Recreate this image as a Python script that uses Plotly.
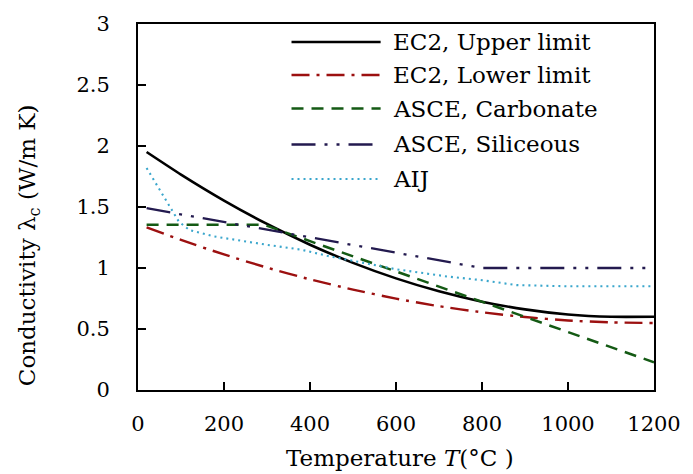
import plotly.graph_objects as go

# ---- data ----
T_ec2 = [20, 100, 200, 300, 400, 500, 600, 700, 800, 900, 1000, 1100, 1200]
ec2_upper = [1.951, 1.766, 1.553, 1.361, 1.191, 1.042, 0.915, 0.809, 0.724, 0.661, 0.619, 0.600, 0.600]
ec2_lower = [1.333, 1.230, 1.111, 1.003, 0.907, 0.823, 0.749, 0.687, 0.637, 0.598, 0.570, 0.554, 0.549]

T_carb = [20, 293, 400, 600, 800, 1000, 1200]
asce_carbonate = [1.355, 1.355, 1.220, 0.972, 0.723, 0.475, 0.227]

T_sil = [20, 400, 800, 1000, 1200]
asce_siliceous = [1.49, 1.25, 1.00, 1.00, 1.00]

T_aij = [20, 95, 120, 175, 300, 380, 440, 600, 720, 800, 880, 1000, 1200]
aij = [1.82, 1.38, 1.31, 1.26, 1.19, 1.15, 1.10, 0.99, 0.93, 0.90, 0.86, 0.85, 0.85]

names = ["EC2, Upper limit", "EC2, Lower limit", "ASCE, Carbonate", "ASCE, Siliceous", "AIJ"]
colors = ["#000000", "#9c1010", "#145a14", "#231a4f", "#3aa6cc"]
dashes = ["solid", "18px,7px,3px,7px", "12px,8px", "24px,9px,3px,9px,3px,9px", "2px,4px"]
widths = [2.6, 2.4, 2.5, 2.3, 2.1]
shapes_kind = ["spline", "spline", "linear", "linear", "linear"]

x_sets = [T_ec2, T_ec2, T_carb, T_sil, T_aij]
y_sets = [ec2_upper, ec2_lower, asce_carbonate, asce_siliceous, aij]

FONT = "DejaVu Serif"

fig = go.Figure()
for xs, ys, n, c, d, w, k in zip(x_sets, y_sets, names, colors, dashes, widths, shapes_kind):
    line = dict(color=c, dash=d, width=w, shape=k)
    if k == "spline":
        line["smoothing"] = 0.6
    fig.add_trace(go.Scatter(x=xs, y=ys, mode="lines", name=n, line=line, showlegend=False))

# custom legend (long line samples like the reference)
legend_rows = [0.9508, 0.8607, 0.7691, 0.6708, 0.5765]
shapes = []
annotations = []
for n, c, d, w, yy in zip(names, colors, dashes, widths, legend_rows):
    shapes.append(dict(type="line", xref="paper", yref="paper", x0=0.2975, x1=0.4702,
                       y0=yy, y1=yy, line=dict(color=c, dash=d, width=w)))
    annotations.append(dict(text=n, xref="paper", yref="paper", x=0.4894, y=yy,
                            xanchor="left", yanchor="middle", showarrow=False,
                            font=dict(family=FONT, size=23, color="black")))

annotations.append(dict(text="Conductivity λ<sub>c</sub> (W/m K)", xref="paper", yref="paper",
                        x=-0.211, y=0.396, xanchor="center", yanchor="middle",
                        textangle=-90, showarrow=False,
                        font=dict(family=FONT, size=23, color="black")))
annotations.append(dict(text="Temperature <i>T</i>(°C )", xref="paper", yref="paper",
                        x=0.507, y=-0.186, xanchor="center", yanchor="middle",
                        showarrow=False, font=dict(family=FONT, size=23, color="black")))

fig.update_layout(
    width=693, height=474,
    margin=dict(l=138, r=34, t=24, b=84),
    paper_bgcolor="white", plot_bgcolor="white",
    shapes=shapes, annotations=annotations,
    showlegend=False,
    font=dict(family=FONT, color="black"),
)
fig.update_xaxes(range=[0, 1200], tickvals=[0, 200, 400, 600, 800, 1000, 1200],
                 ticks="inside", ticklen=8, tickwidth=2, tickcolor="black",
                 showline=True, linecolor="black", linewidth=2, mirror=True,
                 showgrid=False, zeroline=False, ticklabelstandoff=14,
                 tickfont=dict(family=FONT, size=21, color="black"))
fig.update_yaxes(range=[0, 3], tickvals=[0, 0.5, 1, 1.5, 2, 2.5, 3],
                 ticks="inside", ticklen=8, tickwidth=2, tickcolor="black",
                 showline=True, linecolor="black", linewidth=2, mirror=True,
                 showgrid=False, zeroline=False, ticklabelstandoff=22,
                 tickfont=dict(family=FONT, size=21, color="black"))

fig.write_html("out.html")
